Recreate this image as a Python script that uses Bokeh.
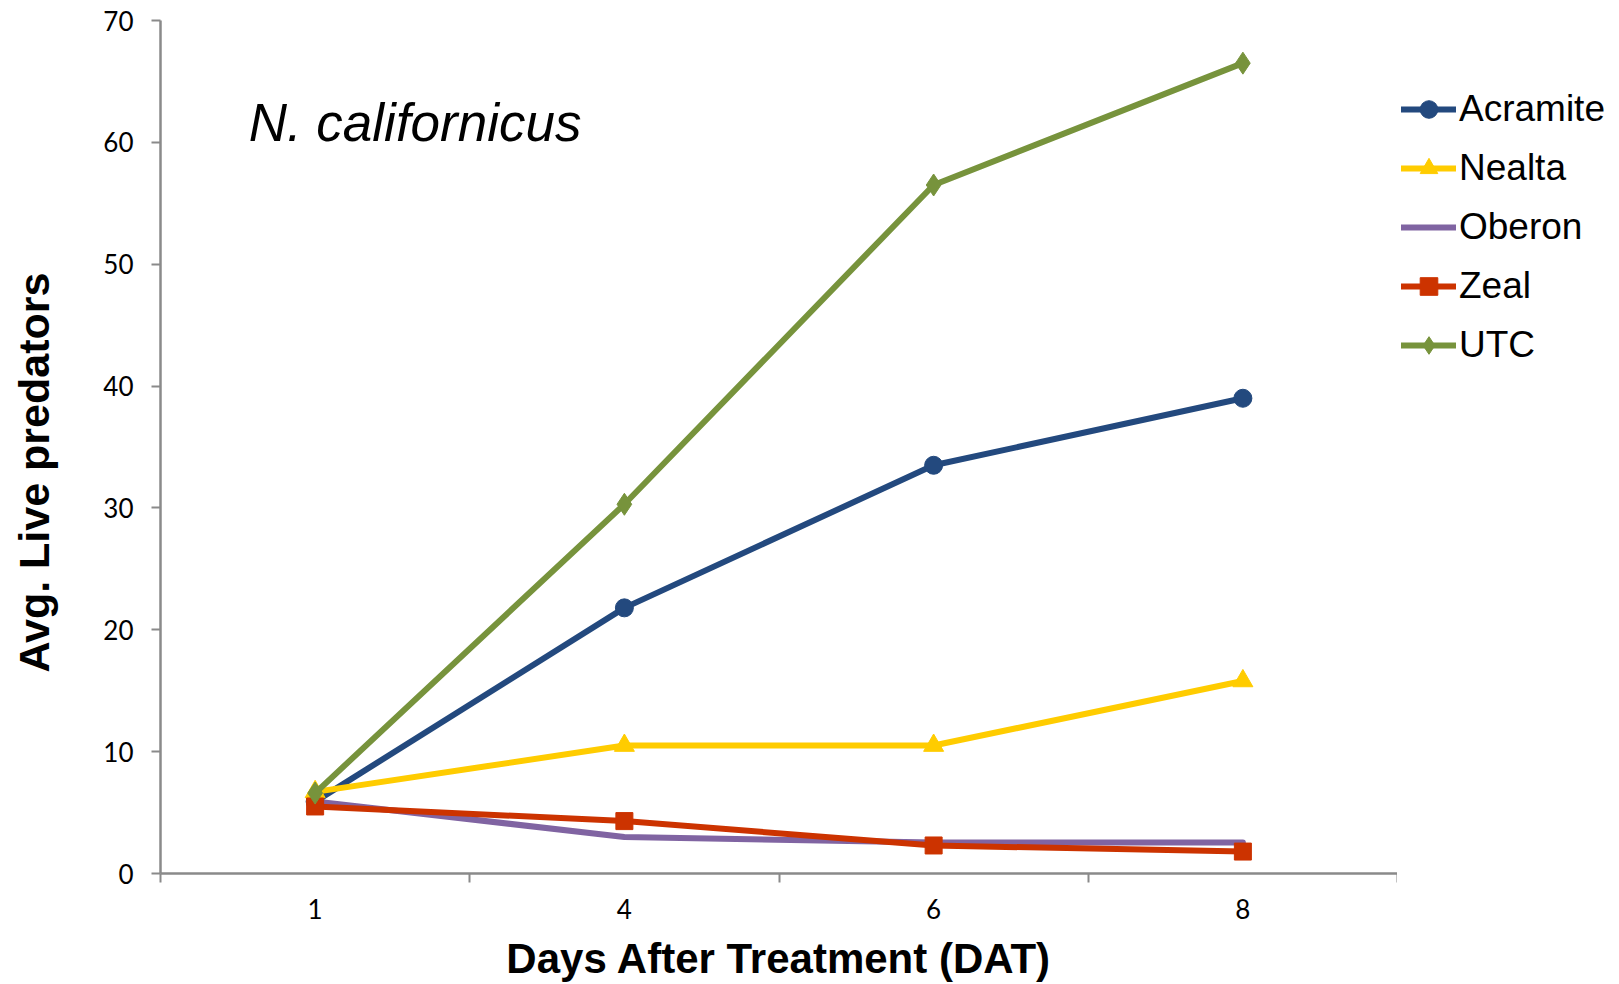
import math
from bokeh.plotting import figure
from bokeh.layouts import row
from bokeh.models import (Range1d, FixedTicker, Legend, LegendItem, Label,
                          ColumnDataSource)
from bokeh.embed import file_html
from bokeh.resources import INLINE

# ---- data ----
days = ["1", "4", "6", "8"]
series_names = ["Acramite", "Nealta", "Oberon", "Zeal", "UTC"]
acramite = [5.9, 21.8, 33.5, 39.0]
nealta = [6.7, 10.5, 10.5, 15.8]
oberon = [5.9, 3.0, 2.55, 2.55]
zeal = [5.5, 4.3, 2.3, 1.8]
utc = [6.6, 30.3, 56.5, 66.5]
y_ticks = [0, 10, 20, 30, 40, 50, 60, 70]

xpos = [i + 0.5 for i in range(len(days))]
n = len(days)

H = 984
LEFT_W = 60      # strip holding the y-axis title
MAIN_W = 1337    # plot with axes
RIGHT_W = 222    # strip holding the legend

AX = "#8a8a8a"
TICKFONT = "Lato"

styles = {
    "Acramite": ("#23497e", "circle", 18),
    "Nealta": ("#ffcc00", "triangle", 20),
    "Oberon": ("#8064a2", None, 0),
    "Zeal": ("#cc3300", "square", 17),
    "UTC": ("#77933c", "diamond", 22),
}
values = dict(zip(series_names, [acramite, nealta, oberon, zeal, utc]))

# ---------------- main plot ----------------
p = figure(width=MAIN_W, height=H, output_backend="svg", toolbar_location=None,
           x_range=Range1d(0, n), y_range=Range1d(0, 70),
           min_border_left=100, min_border_right=0, min_border_top=20,
           min_border_bottom=110, frame_align=False)
p.outline_line_color = None
p.xgrid.visible = False
p.ygrid.visible = False

xa = p.xaxis[0]
xa.ticker = FixedTicker(ticks=xpos, minor_ticks=list(range(n + 1)))
xa.major_label_overrides = {x: d for x, d in zip(xpos, days)}
xa.major_tick_out = 0
xa.major_tick_in = 0
xa.minor_tick_out = 9
xa.minor_tick_in = 0
xa.minor_tick_line_color = AX
xa.minor_tick_line_width = 2
xa.axis_line_color = AX
xa.axis_line_width = 2.5
xa.major_label_text_font = TICKFONT
xa.major_label_text_font_size = "26px"
xa.major_label_text_color = "black"
xa.major_label_standoff = 16
xa.axis_label = "Days After Treatment (DAT)"
xa.axis_label_text_font = "Liberation Sans"
xa.axis_label_text_font_style = "bold"
xa.axis_label_text_font_size = "42px"
xa.axis_label_text_color = "black"
xa.axis_label_standoff = 13

ya = p.yaxis[0]
ya.ticker = FixedTicker(ticks=y_ticks, minor_ticks=[])
ya.major_tick_out = 9
ya.major_tick_in = 0
ya.major_tick_line_color = AX
ya.major_tick_line_width = 2
ya.minor_tick_line_color = None
ya.axis_line_color = AX
ya.axis_line_width = 2.5
ya.major_label_text_font = TICKFONT
ya.major_label_text_font_size = "26px"
ya.major_label_text_color = "black"
ya.major_label_standoff = 18

for name in series_names:
    color, marker, size = styles[name]
    src = ColumnDataSource(dict(x=xpos, y=values[name]))
    p.line("x", "y", source=src, line_color=color, line_width=6,
           line_join="round", line_cap="round")
    if marker:
        p.scatter("x", "y", source=src, marker=marker, size=size,
                  fill_color=color, line_color=color, line_width=1)

title = Label(x=0.285, y=61.6, text="N. californicus", text_font="Liberation Sans",
              text_font_style="italic", text_font_size="53px", text_color="black",
              text_baseline="middle", text_align="left")
p.add_layout(title)

# ---------------- left strip: y-axis title ----------------
lf = figure(width=LEFT_W, height=H, output_backend="svg", toolbar_location=None,
            x_range=Range1d(0, LEFT_W), y_range=Range1d(0, H),
            x_axis_location=None, y_axis_location=None, min_border=0,
            frame_align=False)
lf.outline_line_color = None
lf.xgrid.visible = False
lf.ygrid.visible = False
lf.add_layout(Label(x=33, y=H - 472, text="Avg. Live predators", angle=math.pi / 2,
                    text_font="Liberation Sans", text_font_style="bold",
                    text_font_size="43px", text_color="black",
                    text_align="center", text_baseline="middle"))

# ---------------- right strip: legend ----------------
# the same series are drawn here too, but this strip's ranges keep them out of view;
# they only supply the legend glyphs
rf = figure(width=RIGHT_W, height=H, output_backend="svg", toolbar_location=None,
            x_range=Range1d(0, 1), y_range=Range1d(0, 1),
            x_axis_location=None, y_axis_location=None, min_border=0,
            frame_align=False)
rf.outline_line_color = None
rf.xgrid.visible = False
rf.ygrid.visible = False

items = []
for name in series_names:
    color, marker, size = styles[name]
    src = ColumnDataSource(dict(x=xpos, y=values[name]))
    rs = [rf.line("x", "y", source=src, line_color=color, line_width=6,
                  line_join="round", line_cap="round")]
    if marker:
        rs.append(rf.scatter("x", "y", source=src, marker=marker, size=size,
                             fill_color=color, line_color=color, line_width=1))
    items.append(LegendItem(label=name, renderers=rs))

legend = Legend(items=items, location=(4, 617), orientation="vertical",
                label_text_font="Liberation Sans", label_text_font_size="37px",
                label_text_color="black", glyph_width=55, glyph_height=44,
                label_height=44, label_standoff=3, spacing=15, padding=0,
                margin=0, border_line_color=None, background_fill_alpha=0)
rf.add_layout(legend, "center")

layout = row(lf, p, rf, spacing=0)
open("out.html", "w").write(file_html(layout, INLINE))
